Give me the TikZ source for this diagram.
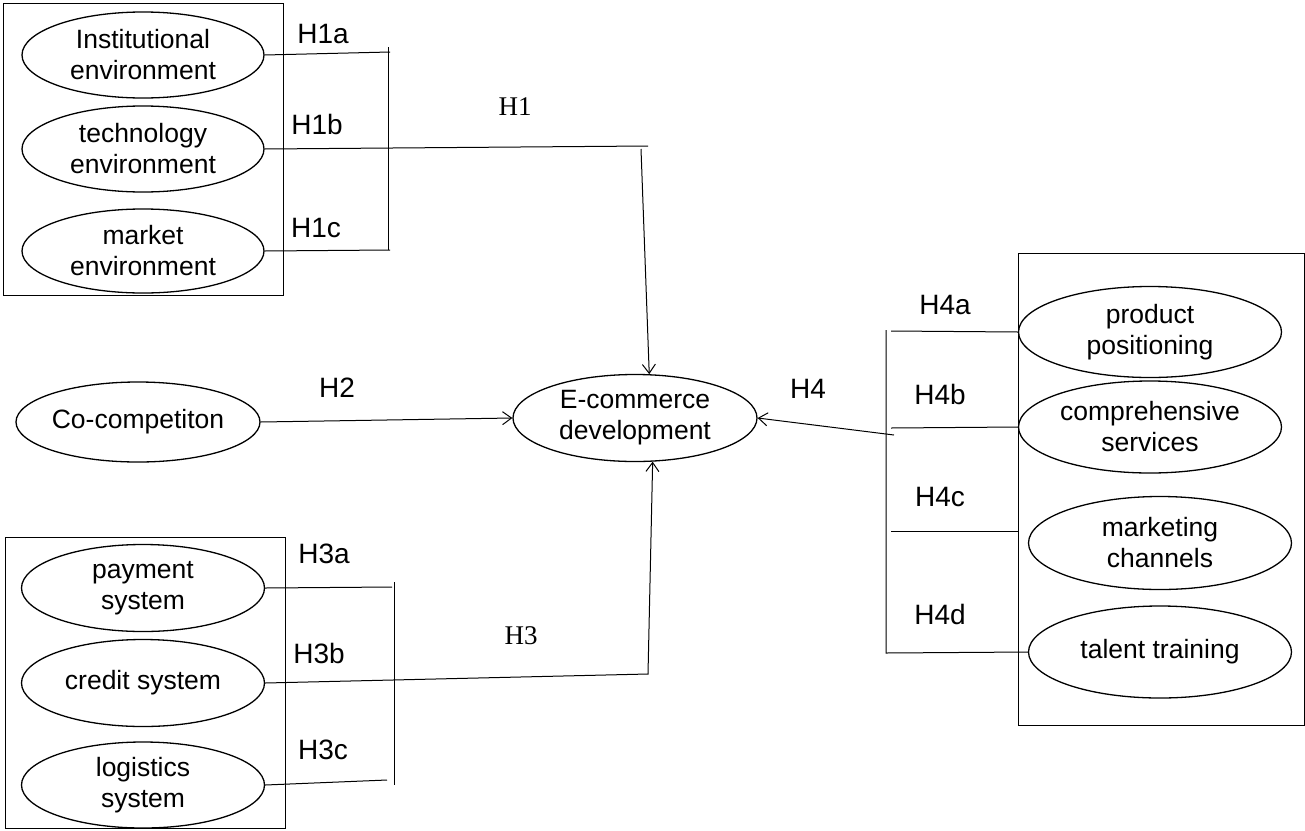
\documentclass[tikz,border=0pt]{standalone}
\usepackage{fontspec}
\setmainfont{Liberation Sans}
\newfontfamily\serifh{Liberation Serif}
\usetikzlibrary{shapes.geometric,arrows.meta}
\begin{document}
\begin{tikzpicture}[x=1pt,y=-1pt,
  factor/.style={ellipse, draw, line width=1.3pt, inner sep=0pt, align=center,
    font=\fontsize{26.5}{31}\selectfont},
  grp/.style={draw, line width=1pt, inner sep=0pt},
  link/.style={line width=1pt},
  hyp/.style={font=\fontsize{28}{30}\selectfont, inner sep=0pt},
  hypserif/.style={font=\serifh\fontsize{27}{30}\selectfont, inner sep=0pt},
  arr/.style={link, -{Straight Barb[length=9pt,width=13pt]}}
]
\useasboundingbox (0,0) rectangle (1305,830);

% ---- group frames ----
\node[grp, minimum width=280pt, minimum height=292pt] (g1) at (143,149) {};
\node[grp, minimum width=280pt, minimum height=291pt] (g3) at (145,682.5) {};
\node[grp, minimum width=286pt, minimum height=472pt] (g4) at (1161,489) {};

% ---- environment factors ----
\node[factor, minimum width=242pt, minimum height=86pt] (inst) at (143,55) {Institutional\\environment};
\node[factor, minimum width=242pt, minimum height=86pt] (tech) at (143,149) {technology\\environment};
\node[factor, minimum width=242pt, minimum height=84pt] (mkt) at (143,251) {market\\environment};

% ---- central and co-competition ----
\node[factor, minimum width=244pt, minimum height=87pt] (ecom) at (635,418) {E-commerce\\development};
\node[factor, minimum width=244pt, minimum height=80pt] (coco) at (138,422) {Co-competiton};

% ---- support systems ----
\node[factor, minimum width=243pt, minimum height=87pt] (pay) at (143,588) {payment\\system};
\node[factor, minimum width=243pt, minimum height=87pt] (cred) at (143,683) {credit system};
\node[factor, minimum width=243pt, minimum height=86pt] (logi) at (143,785) {logistics\\system};

% ---- enterprise capabilities ----
\node[factor, minimum width=263pt, minimum height=91pt] (prod) at (1150,332) {product\\positioning};
\node[factor, minimum width=263pt, minimum height=92pt] (comp) at (1150,427) {comprehensive\\services};
\node[factor, minimum width=263pt, minimum height=93pt] (mch) at (1160,543) {marketing\\channels};
\node[factor, minimum width=263pt, minimum height=92pt] (tal) at (1160,652) {talent training};

% ---- H1 bracket ----
\coordinate (b1top) at (388,47);
\coordinate (b1bot) at (388,250);
\coordinate (h1a) at (390,52);
\coordinate (h1c) at (390,250);
\coordinate (h1end) at (648,146);
\coordinate (h1drop) at (641,149);
\draw[link] (inst.east) -- (h1a);
\draw[link] (tech.east) -- (h1end);
\draw[link] (mkt.east) -- (h1c);
\draw[link] (b1top) -- (b1bot);
\draw[arr] (h1drop) -- (ecom.72);

% ---- H2 ----
\draw[arr] (coco.east) -- (ecom.west);

% ---- H3 bracket ----
\coordinate (b3top) at (394,582);
\coordinate (b3bot) at (394,785);
\coordinate (h3a) at (392,587);
\coordinate (h3end) at (648,674);
\coordinate (h3c) at (387,780);
\draw[link] (pay.east) -- (h3a);
\draw[link] (logi.east) -- (h3c);
\draw[link] (b3top) -- (b3bot);
\draw[arr] (cred.east) -- (h3end) -- (ecom.-68);

% ---- H4 bracket ----
\coordinate (b4top) at (886,330);
\coordinate (b4bot) at (886,653);
\coordinate (h4a) at (891,331);
\coordinate (h4b) at (891,428);
\coordinate (h4c) at (891,531);
\coordinate (h4cend) at (g4.west |- h4c);
\coordinate (h4from) at (894,435);
\draw[link] (h4a) -- (prod.west);
\draw[link] (h4b) -- (comp.west);
\draw[link] (h4c) -- (h4cend);
\draw[link] (b4top) -- (b4bot) -- (tal.west);
\draw[arr] (h4from) -- (ecom.east);

% ---- hypothesis labels ----
\node[hyp] (lh1a) at (323,34) {H1a};
\node[hyp] (lh1b) at (317,124) {H1b};
\node[hyp] (lh1c) at (316,228) {H1c};
\node[hypserif] (lh1) at (515,107) {H1};
\node[hyp] (lh2) at (337,388) {H2};
\node[hyp] (lh3a) at (324,554) {H3a};
\node[hyp] (lh3b) at (319,653) {H3b};
\node[hyp] (lh3c) at (323,750) {H3c};
\node[hypserif] (lh3) at (521,636) {H3};
\node[hyp] (lh4) at (808,389) {H4};
\node[hyp] (lh4a) at (945,305) {H4a};
\node[hyp] (lh4b) at (940,394) {H4b};
\node[hyp] (lh4c) at (940,497) {H4c};
\node[hyp] (lh4d) at (940,614) {H4d};
\end{tikzpicture}
\end{document}
